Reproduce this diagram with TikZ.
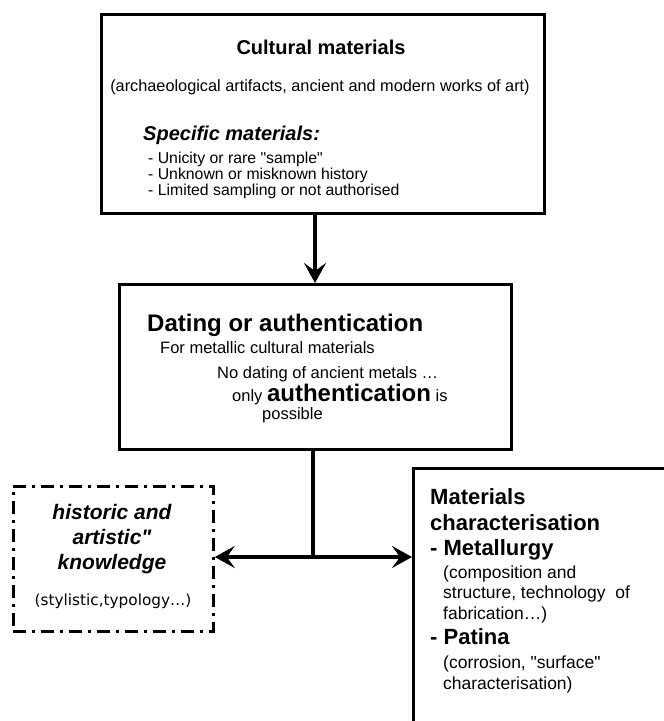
\documentclass[tikz,border=0pt]{standalone}
\usepackage{fontspec}
\setmainfont{Liberation Sans}
\newfontfamily\widesans{DejaVu Sans}
\usetikzlibrary{positioning,arrows.meta}

\begin{document}
\begin{tikzpicture}[x=1pt, y=-1pt,
                    framebox/.style={rectangle, draw=black, line width=2.8pt, inner sep=0pt, anchor=north west},
                    dashbox/.style={rectangle, draw=black, line width=2.8pt, inner sep=0pt, anchor=north west,
                                    dash pattern=on 13pt off 6pt on 3pt off 6pt},
                    txt/.style={inner sep=0pt, anchor=base west, align=left},
                    ctxt/.style={inner sep=0pt, anchor=base, align=center},
                    link/.style={line width=3.2pt, -{Stealth[length=20pt, width=22pt, inset=8pt]}}]
    \clip (0,0) rectangle (664,721);
    % boxes
    \node[framebox, minimum width=443pt, minimum height=199pt] (cultural) at (100,13) {};
    \node[framebox, minimum width=392pt, minimum height=165pt] (dating)   at (118,283) {};
    \node[dashbox,  minimum width=200pt, minimum height=145pt] (historic) at (12,485) {};
    \node[framebox, minimum width=300pt, minimum height=300pt] (charac)   at (412,467) {};
    % texts of the first box (multi-line nodes sit on their last line)
    \node[ctxt, font=\fontsize{20}{24}\selectfont\bfseries] (cultitle) at (321,54) {Cultural materials};
    \node[ctxt, font=\fontsize{16.3}{20}\selectfont] (cultsub) at (320,91) {(archaeological artifacts, ancient and modern works of art)};
    \node[txt, font=\fontsize{20}{24}\selectfont\bfseries\itshape] (spectitle) at (143,140) {Specific materials:};
    \node[txt, font=\fontsize{15.8}{15.8}\selectfont] (speclist) at (148,195)
        {- Unicity or rare \textquotedbl sample\textquotedbl\\- Unknown or misknown history\\- Limited sampling or not authorised};
    % texts of the second box
    \node[txt, font=\fontsize{24}{28}\selectfont\bfseries] (datetitle) at (147,331) {Dating or authentication};
    \node[txt, font=\fontsize{16.5}{20}\selectfont] (metallic) at (160,353) {For metallic cultural materials};
    \node[txt, font=\fontsize{16.5}{20}\selectfont] (nodating) at (217,378) {No dating of ancient metals \dots};
    \node[txt, font=\fontsize{16.5}{20}\selectfont] (only)     at (232,401) {only {\fontsize{24}{28}\selectfont\bfseries authentication} is};
    \node[txt, font=\fontsize{16.5}{20}\selectfont] (possible) at (262,419) {possible};
    % texts of the dashed box
    \node[ctxt, font=\fontsize{21}{25}\selectfont\bfseries\itshape] (knowledge) at (112,569)
        {historic and\\artistic\textquotedbl\\knowledge};
    \node[ctxt, font=\widesans\fontsize{15.3}{18}\selectfont] (stylistic) at (113,605) {(stylistic,typology\dots)};
    % texts of the last box
    \node[txt, font=\fontsize{22}{26}\selectfont\bfseries] (mattitle)   at (430,530) {Materials\\characterisation};
    \node[txt, font=\fontsize{22}{26}\selectfont\bfseries] (metallurgy) at (430,555) {- Metallurgy};
    \node[txt, font=\fontsize{17.5}{20.5}\selectfont] (metaltext) at (443,619)
        {(composition and\\structure, technology\ \ of\\fabrication\dots)};
    \node[txt, font=\fontsize{22}{26}\selectfont\bfseries] (patina) at (430,644) {- Patina};
    \node[txt, font=\fontsize{17.5}{21}\selectfont] (patinatext) at (443,689)
        {(corrosion, \textquotedbl surface\textquotedbl\\characterisation)};
    % lines
    \coordinate (split) at (313,557);
    \draw[link] (cultural.south -| 315,0) -- (dating.north -| 315,0);
    \draw[line width=3.2pt] (dating.south -| split) -- (split);
    \draw[link] (split) -- (historic.east |- split);
    \draw[link] (split) -- (charac.west |- split);
\end{tikzpicture}
\end{document}
